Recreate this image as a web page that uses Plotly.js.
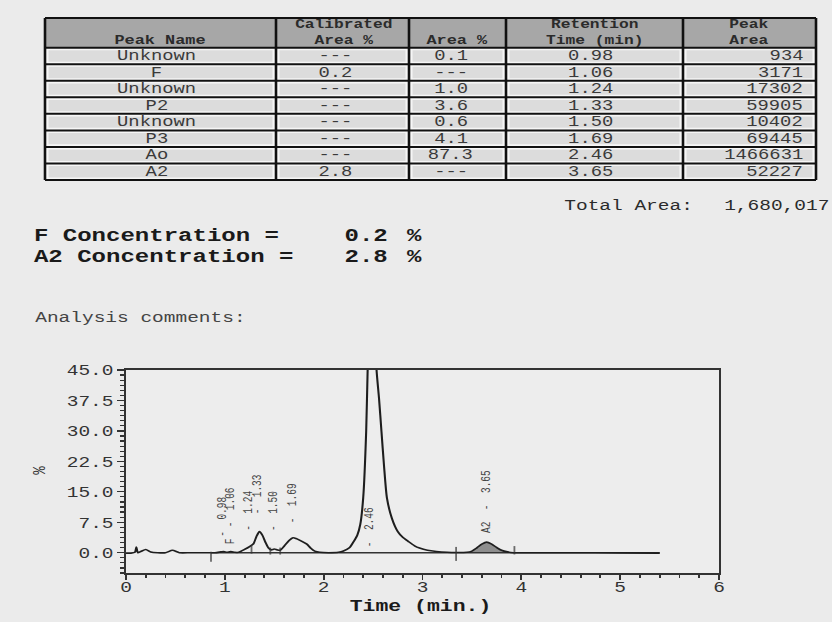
<!DOCTYPE html>
<html><head><meta charset="utf-8">
<script src="https://cdn.plot.ly/plotly-3.0.1.min.js"></script>
<style>
html,body{margin:0;padding:0;background:#ebebeb;overflow:hidden;width:832px;height:622px;}
#chart{width:640px;height:622px;transform:scaleX(1.3);transform-origin:0 0;}
</style></head><body><div id="chart"></div>
<script>
// ================= DATA =================
const peakNames      = ['Unknown','F','Unknown','P2','Unknown','P3','Ao','A2'];
const calibratedArea = ['---','0.2','---','---','---','---','---','2.8'];
const areaPct        = ['0.1','---','1.0','3.6','0.6','4.1','87.3','---'];
const retentionTimes = [0.98,1.06,1.24,1.33,1.50,1.69,2.46,3.65];
const peakAreas      = [934,3171,17302,59905,10402,69445,1466631,52227];
const headerLine1    = ['', 'Calibrated', '', 'Retention', 'Peak'];
const headerLine2    = ['Peak Name', 'Area %', 'Area %', 'Time (min)', 'Area'];
const totalAreaLabel = 'Total Area:';
const totalArea      = '1,680,017';
const concLabels     = ['F Concentration =', 'A2 Concentration ='];
const concValues     = ['0.2', '2.8'];
const commentsLabel  = 'Analysis comments:';
const chartPeakTags  = ['', 'F', '', '', '', '', '', 'A2'];

// chromatogram signal (time in min, signal in %)
const sigTime = [0.00,0.05,0.09,0.105,0.12,0.15,0.20,0.25,0.32,0.40,0.47,0.54,0.65,0.80,0.90,0.96,0.99,1.02,1.06,1.10,
  1.14,1.20,1.25,1.29,1.32,1.35,1.38,1.41,1.44,1.47,1.50,1.53,1.56,1.60,1.65,1.69,1.73,1.78,1.83,1.87,
  1.91,1.96,2.05,2.15,2.20,2.26,2.30,2.34,2.37,2.40,2.43,2.445,2.48,2.535,2.56,2.585,2.61,2.64,2.69,2.75,
  2.80,2.855,2.92,2.97,3.05,3.14,3.25,3.34,3.45,3.50,3.55,3.60,3.65,3.70,3.75,3.80,3.86,3.92,4.10,4.50,5.00,5.40];
const sigPct = [-0.1,-0.1,0.1,1.4,0.0,0.3,0.8,0.2,0.0,0.0,0.6,0.0,0.0,0.0,0.0,0.2,0.3,0.1,0.3,0.1,
  0.1,0.8,1.5,2.2,4.0,5.2,4.3,2.6,1.2,0.7,0.9,0.7,0.6,1.6,3.0,3.7,3.4,2.8,2.1,1.1,
  0.4,0.1,0.0,0.1,0.4,1.2,2.6,4.3,6.9,13.5,29.8,45,75,45,38,29.8,21.6,13.5,8.5,5.2,
  3.8,2.8,1.7,1.15,0.6,0.3,0.1,0.05,0.1,0.4,1.2,2.1,2.6,2.1,1.3,0.6,0.2,0.0,0.0,0.0,-0.05,-0.1];
// integration event marks
const eventTimes = [0.86, 1.27, 1.46, 1.56, 3.34, 3.93];
const eventPct   = [-1.0, 0.8, 0.4, 0.4, -0.3, 0.6];
const a2Window   = [3.45, 3.92];

// ================= LAYOUT HELPERS =================
const W = 832, H = 622;
const PX = v => v / W;
const PY = v => 1 - v / H;
const FONT = 'Liberation Mono, Courier New, monospace';
const colEdges = [45, 276, 409, 506, 683, 816];
const tableTop = 18, headerBottom = 47.7, rowH = 16.54;
const headerCenters = [160.5, 344, 457, 595, 750];
const dataCenters = [157, 336, 451, 591];
const peakAreaRight = 806;
const labelBase = [3.8, 1.8, 5.2, 9.2, 5.1, 7.1, 1.1, 4.6];

const shapes = [];
const annotations = [];

// table backgrounds
shapes.push({type:'rect', xref:'paper', yref:'paper', x0:PX(colEdges[0]), x1:PX(colEdges[5]),
  y0:PY(headerBottom), y1:PY(tableTop), fillcolor:'#a7a7a7', line:{width:0}, layer:'below'});
const tableBottom = headerBottom + rowH * peakNames.length;
shapes.push({type:'rect', xref:'paper', yref:'paper', x0:PX(colEdges[0]), x1:PX(colEdges[5]),
  y0:PY(tableBottom), y1:PY(headerBottom), fillcolor:'#f6f6f6', line:{width:0}, layer:'below'});
for (let r = 0; r < peakNames.length; r++) {
  const top = headerBottom + r * rowH;
  for (let c = 0; c < 5; c++) {
    shapes.push({type:'rect', xref:'paper', yref:'paper',
      x0:PX(colEdges[c] + 3.5), x1:PX(colEdges[c+1] - 3.5),
      y0:PY(top + rowH - 2.6), y1:PY(top + 2.6),
      fillcolor:'#dcdcdc', line:{width:0}, layer:'below'});
  }
}
// grid lines
colEdges.forEach(e => shapes.push({type:'line', xref:'paper', yref:'paper', x0:PX(e), x1:PX(e),
  y0:PY(tableBottom), y1:PY(tableTop), line:{color:'#111', width:2}}));
const hLines = [tableTop, headerBottom];
for (let r = 1; r <= peakNames.length; r++) hLines.push(headerBottom + r * rowH);
hLines.forEach(h => shapes.push({type:'line', xref:'paper', yref:'paper', x0:PX(colEdges[0]), x1:PX(colEdges[5]),
  y0:PY(h), y1:PY(h), line:{color:'#111', width:2}}));

function txt(text, x, y, anchor, size, opts) {
  annotations.push(Object.assign({text:text, xref:'paper', yref:'paper', x:PX(x), y:PY(y),
    xanchor:anchor, yanchor:'middle', showarrow:false,
    font:{family:FONT, size:size, color:'#2b2b2b'}}, opts || {}));
}
// header text
for (let c = 0; c < 5; c++) {
  if (headerLine1[c]) txt('<b>' + headerLine1[c] + '<br>' + headerLine2[c] + '</b>', headerCenters[c], 33.3, 'center', 12.5);
  else txt('<b>' + headerLine2[c] + '</b>', headerCenters[c], 40.5, 'center', 13);
}
// data text
const dataFont = {family:FONT, size:14.5, color:'#3a3a3a'};
for (let r = 0; r < peakNames.length; r++) {
  const cy = headerBottom + rowH * (r + 0.5);
  const row = [peakNames[r], calibratedArea[r], areaPct[r], retentionTimes[r].toFixed(2)];
  row.forEach((v, c) => txt(v, dataCenters[c], cy, 'center', 14.5, {font:dataFont}));
  txt(String(peakAreas[r]), peakAreaRight, cy, 'right', 14.5, {font:dataFont});
}
// total area and concentrations
txt(totalAreaLabel, 561, 206, 'left', 15);
txt(totalArea, 722, 206, 'left', 15);
const concFont = {family:FONT, size:18.5, color:'#1a1a1a'};
concLabels.forEach((l, i) => {
  const y = 236.3 + i * 21.3;
  const o = {font:concFont, borderpad:0};
  txt('<b>' + l + '</b>', 32, y, 'left', 18.5, o);
  txt('<b>' + concValues[i] + '</b>', 343, y, 'left', 18.5, o);
  txt('<b>%</b>', 406, y, 'left', 18.5, o);
});
txt(commentsLabel, 32, 318, 'left', 15, {font:{family:FONT, size:15, color:'#444'}});
// axis titles
txt('<b>Time (min.)</b>', 420.5, 606.5, 'center', 16.5, {borderpad:0, font:{family:FONT, size:16.5, color:'#1a1a1a'}});
txt('%', 40, 470, 'center', 14, {textangle:-90, font:{family:FONT, size:14, color:'#333'}});

// peak labels on the chromatogram
const NB = '\u00a0';
retentionTimes.forEach((rt, i) => {
  const tag = chartPeakTags[i] ? chartPeakTags[i] + NB + NB + '-' + NB + NB : '-' + NB + NB;
  annotations.push({text: tag + rt.toFixed(2), xref:'x', yref:'y', x: rt, y: labelBase[i],
    xanchor:'center', yanchor:'bottom', textangle:-90, showarrow:false, borderpad:0,
    font:{family:FONT, size:9.5, color:'#444'}});
});

// ================= TRACES =================
const a2T = [], a2Y = [];
sigTime.forEach((t, i) => { if (t >= a2Window[0] && t <= a2Window[1]) { a2T.push(t); a2Y.push(sigPct[i]); } });

const traces = [
  {type:'scatter', mode:'lines', x:a2T, y:a2Y, fill:'tozeroy', fillcolor:'#8e8e8e',
   line:{width:0, shape:'spline', smoothing:0.6}, hoverinfo:'skip'},
  {type:'scatter', mode:'lines', x:[eventTimes[0], sigTime[sigTime.length-1]], y:[0, 0],
   line:{color:'#333', width:1.4}, hoverinfo:'skip'},
  {type:'scatter', mode:'lines', x:sigTime, y:sigPct,
   line:{color:'#1e1e1e', width:1.6, shape:'spline', smoothing:0.6}},
  {type:'scatter', mode:'markers', x:eventTimes, y:eventPct,
   marker:{symbol:'line-ns-open', color:'#333', size:[7,6,5,5,10,6], line:{color:'#333', width:1.4}}, hoverinfo:'skip'}
];

const layout = {
  width:640, height:622, margin:{l:0, r:0, t:0, b:0},
  paper_bgcolor:'#ebebeb', plot_bgcolor:'#ededed', showlegend:false,
  font:{family:FONT, color:'#2b2b2b'},
  xaxis:{domain:[PX(126), PX(719)], range:[0, 6], tick0:0, dtick:1, ticks:'outside', ticklen:5,
    tickwidth:1.4, tickcolor:'#333', showline:true, linecolor:'#333', linewidth:1.6, mirror:true,
    showgrid:false, zeroline:false, tickfont:{family:FONT, size:15, color:'#333'}, ticklabelstandoff:-6,
    minor:{dtick:0.2, tick0:0, ticks:'outside', ticklen:3.5, tickwidth:1.4, tickcolor:'#333', showgrid:false}},
  yaxis:{domain:[PY(573), PY(370)], range:[-5, 45], tick0:0, dtick:7.5, tickformat:'.1f',
    ticks:'outside', ticklen:5, tickwidth:1.4, tickcolor:'#333', showline:true, linecolor:'#333',
    linewidth:1.6, mirror:true, showgrid:false, zeroline:false,
    tickfont:{family:FONT, size:15, color:'#333'},
    minor:{dtick:1.25, tick0:0, ticks:'outside', ticklen:3, tickwidth:1.2, tickcolor:'#333', showgrid:false}},
  shapes:shapes, annotations:annotations
};

Plotly.newPlot('chart', traces, layout, {staticPlot:true, displayModeBar:false});
</script></body></html>
